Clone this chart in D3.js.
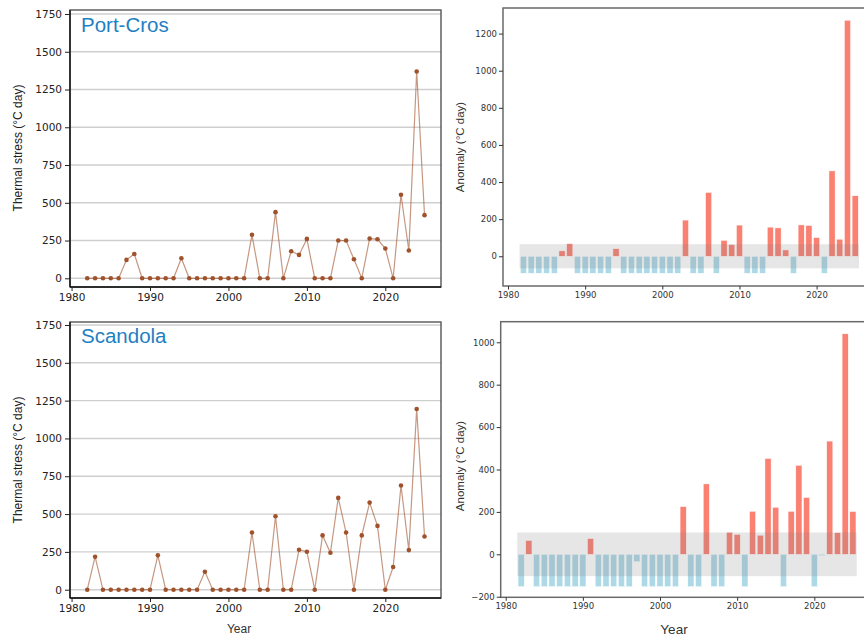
<!DOCTYPE html>
<html>
<head>
<meta charset="utf-8">
<script src="https://cdn.jsdelivr.net/npm/d3@7"></script>
<style>
  html, body { margin: 0; padding: 0; background: #fff; }
  svg { display: block; }
</style>
</head>
<body>
<svg id="chart" width="864" height="637"></svg>
<script>
// Summer thermal stress (cumulative °C day) at two marine reserves, 1982–2025
const years = [1982,1983,1984,1985,1986,1987,1988,1989,1990,1991,1992,1993,1994,1995,1996,1997,1998,1999,
  2000,2001,2002,2003,2004,2005,2006,2007,2008,2009,2010,2011,2012,2013,2014,2015,2016,2017,2018,2019,
  2020,2021,2022,2023,2024,2025];

const portCrosStress = [0,0,0,0,0,122,161,0,0,0,0,0,133,0,0,0,0,0,0,0,0,288,0,0,438,0,179,155,261,0,0,0,
  250,250,126,0,263,259,197,0,553,184,1369,418];
const portCrosAnomaly = [-92,-92,-92,-92,-92,29,68,-92,-92,-92,-92,-92,41,-92,-92,-92,-92,-92,-92,-92,-92,
  195,-92,-92,344,-92,86,63,168,-92,-92,-92,157,153,34,-92,169,166,101,-92,460,92,1272,326];
const portCrosBand = 65;   // half-width of the normal-variability band

const scandolaStress = [0,218,0,0,0,0,0,0,0,227,0,0,0,0,0,119,0,0,0,0,0,378,0,0,486,0,0,264,251,0,359,244,
  607,378,0,359,576,422,0,150,689,262,1195,352];
const scandolaAnomaly = [-153,65,-153,-153,-153,-153,-153,-153,-153,74,-153,-153,-153,-153,-153,-35,-153,-153,
  -153,-153,-153,225,-153,-153,332,-153,-153,104,94,-153,203,90,452,222,-153,203,420,268,-153,-6,534,102,1040,202];
const scandolaBand = 103;

const stressTicks = [0,250,500,750,1000,1250,1500,1750];
const yearTicks = [1980,1990,2000,2010,2020];
const portCrosAnomalyTicks = [0,200,400,600,800,1000,1200];
const scandolaAnomalyTicks = [-200,0,200,400,600,800,1000];

const svg = d3.select("#chart");
const tickFont = "'DejaVu Sans', sans-serif";
const labelFont = "'Liberation Sans', Arial, sans-serif";
const plain = d => d < 0 ? "\u2212" + Math.abs(d) : String(d);

function styleAxis(g, size, color) {
  g.select(".domain").remove();
  g.selectAll(".tick line").attr("stroke", color);
  g.selectAll(".tick text").attr("fill", color)
    .style("font-family", tickFont).style("font-size", size + "px");
}

// Left column: line + markers of thermal stress
function stressPanel(o) {
  const x = d3.scaleLinear().domain([1979.8, 2027.1]).range([o.x0, o.x1]);
  const y = d3.scaleLinear().domain(o.yDomain).range([o.y1, o.y0]);
  const g = svg.append("g");

  g.append("g").selectAll("line").data(stressTicks).join("line")
    .attr("x1", o.x0).attr("x2", o.x1)
    .attr("y1", d => y(d)).attr("y2", d => y(d))
    .attr("stroke", "#cfcfcf").attr("stroke-width", 1.4);

  g.append("rect").attr("x", o.x0).attr("y", o.y0)
    .attr("width", o.x1 - o.x0).attr("height", o.y1 - o.y0)
    .attr("fill", "none").attr("stroke", "#555").attr("stroke-width", 1.4);
  g.append("line").attr("x1", o.x0).attr("x2", o.x0).attr("y1", o.y0).attr("y2", o.y1)
    .attr("stroke", "#111").attr("stroke-width", 1.4);
  g.append("line").attr("x1", o.x0).attr("x2", o.x1).attr("y1", o.y1).attr("y2", o.y1)
    .attr("stroke", "#111").attr("stroke-width", 1.4);

  const ya = g.append("g").attr("transform", `translate(${o.x0},0)`)
    .call(d3.axisLeft(y).tickValues(stressTicks).tickFormat(plain).tickSize(5).tickPadding(3));
  styleAxis(ya, 10.5, "#222");
  const xa = g.append("g").attr("transform", `translate(0,${o.y1})`)
    .call(d3.axisBottom(x).tickValues(yearTicks).tickFormat(plain).tickSize(4).tickPadding(3));
  styleAxis(xa, 10.5, "#222");

  const pts = years.map((yr, i) => [yr, o.values[i]]);
  g.append("path").datum(pts)
    .attr("d", d3.line().x(d => x(d[0])).y(d => y(d[1])))
    .attr("fill", "none").attr("stroke", "#a0522d").attr("stroke-opacity", 0.6).attr("stroke-width", 1.2);
  g.append("g").selectAll("circle").data(pts).join("circle")
    .attr("cx", d => x(d[0])).attr("cy", d => y(d[1])).attr("r", 2.3)
    .attr("fill", "#a0522d");

  g.append("text").attr("x", o.x0 + 11).attr("y", o.titleY)
    .style("font-family", labelFont).style("font-size", "20.5px")
    .attr("fill", "#1f7fc3").text(o.title);

  g.append("text")
    .attr("transform", `translate(22,${o.labelY}) rotate(-90)`)
    .attr("text-anchor", "middle")
    .style("font-family", labelFont).style("font-size", "12px").attr("fill", "#222")
    .text("Thermal stress (°C day)");

  if (o.xLabel) {
    g.append("text").attr("x", o.xLabelX).attr("y", 633).attr("text-anchor", "middle")
      .style("font-family", labelFont).style("font-size", "12px").attr("fill", "#333")
      .text("Year");
  }
}

// Right column: anomaly bars with the grey normal-variability band on top
function anomalyPanel(o) {
  const x = d3.scaleLinear().domain([1979.35, 2027.65]).range([o.x0, o.x0 + 48.3 * 7.715]);
  const y = d3.scaleLinear().domain(o.yDomain).range([o.y1, o.y0]);
  const g = svg.append("g");
  const bw = 0.8;

  g.append("g").selectAll("rect").data(years.map((yr, i) => [yr, o.values[i]])).join("rect")
    .attr("x", d => x(d[0] - bw / 2))
    .attr("width", x(bw) - x(0))
    .attr("y", d => y(Math.max(0, d[1])))
    .attr("height", d => Math.abs(y(d[1]) - y(0)))
    .attr("fill", d => d[1] >= 0 ? "#fa8072" : "#add8e6")
    .attr("stroke", "#fff").attr("stroke-width", 0.5);

  g.append("rect")
    .attr("x", x(1981.5)).attr("width", x(2025.5) - x(1981.5))
    .attr("y", y(o.band)).attr("height", y(-o.band) - y(o.band))
    .attr("fill", "#808080").attr("fill-opacity", 0.2);

  g.append("rect").attr("x", o.x0).attr("y", o.y0)
    .attr("width", 900 - o.x0).attr("height", o.y1 - o.y0)
    .attr("fill", "none").attr("stroke", "#6a6a6a").attr("stroke-width", 1.5);

  const ya = g.append("g").attr("transform", `translate(${o.x0},0)`)
    .call(d3.axisLeft(y).tickValues(o.ticks).tickSize(4).tickPadding(2).tickFormat(plain));
  styleAxis(ya, 8.5, "#333");
  const xa = g.append("g").attr("transform", `translate(0,${o.y1})`)
    .call(d3.axisBottom(x).tickValues(yearTicks).tickFormat(plain).tickSize(3.5).tickPadding(2));
  styleAxis(xa, 8.5, "#333");

  g.append("text")
    .attr("transform", `translate(464,${o.labelY}) rotate(-90)`)
    .attr("text-anchor", "middle")
    .style("font-family", labelFont).style("font-size", "11.5px").attr("fill", "#333")
    .text("Anomaly (°C day)");

  if (o.xLabel) {
    g.append("text").attr("x", 674).attr("y", 634).attr("text-anchor", "middle")
      .style("font-family", labelFont).style("font-size", "13.5px").attr("fill", "#333")
      .text("Year");
  }
}

stressPanel({ x0: 70, x1: 441, y0: 10, y1: 287, yDomain: [-57.6, 1776.5],
  values: portCrosStress, title: "Port-Cros", titleY: 31.5, labelY: 148, xLabel: false });
stressPanel({ x0: 70, x1: 441, y0: 322, y1: 598, yDomain: [-54.8, 1769.8],
  values: scandolaStress, title: "Scandola", titleY: 342.5, labelY: 460, xLabel: true, xLabelX: 239 });

anomalyPanel({ x0: 503, y0: 8, y1: 286, yDomain: [-160.3, 1338],
  values: portCrosAnomaly, band: portCrosBand, ticks: portCrosAnomalyTicks, labelY: 147, xLabel: false });
anomalyPanel({ x0: 500.7, y0: 321.7, y1: 597.3, yDomain: [-202.8, 1097],
  values: scandolaAnomaly, band: scandolaBand, ticks: scandolaAnomalyTicks, labelY: 466, xLabel: true });
</script>
</body>
</html>
